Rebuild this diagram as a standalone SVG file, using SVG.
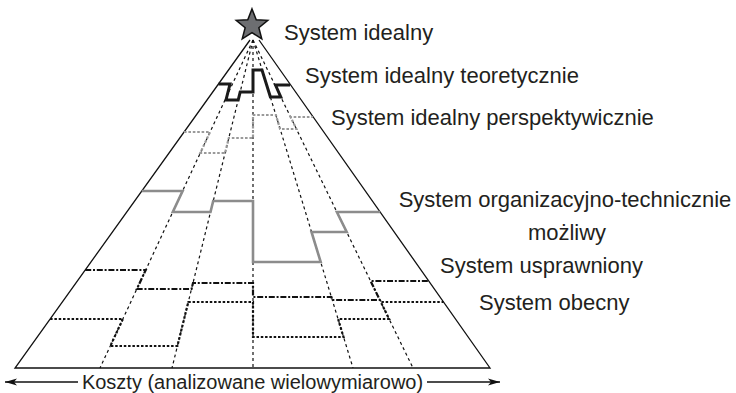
<svg xmlns="http://www.w3.org/2000/svg" width="736" height="393" viewBox="0 0 736 393">
<defs>
<style>
.lbl{font-family:"Liberation Sans",Arial,sans-serif;font-size:22px;fill:#231f20}
.axl{font-family:"Liberation Sans",Arial,sans-serif;font-size:20px;fill:#231f20}
.edge{fill:none;stroke:#111;stroke-width:1.3}
.fan{fill:none;stroke:#111;stroke-width:1.2;stroke-dasharray:3 3}
.lvl{fill:none;stroke-linejoin:miter}
</style>
<marker id="ah" viewBox="0 0 12 8" refX="12" refY="4" markerWidth="12" markerHeight="8" orient="auto" markerUnits="userSpaceOnUse">
<path d="M0,0.5 L12,4 L0,7.5 L3,4 Z" fill="#111"/>
</marker>
</defs>
<rect width="736" height="393" fill="#fff"/>

<g id="connectors">
<g id="fan-lines">
<path class="fan" d="M253,40 L100,368"/>
<path class="fan" d="M253,40 L172,368"/>
<path class="fan" d="M253,40 L253,368"/>
<path class="fan" d="M253,40 L353,368"/>
<path class="fan" d="M253,40 L413,368"/>
</g>
<path id="pyramid" class="edge" d="M250,40 L15,368 L490,368 L259,40"/>
</g>

<g id="level-obecny">
<path class="lvl" stroke="#111" stroke-width="2.2" stroke-dasharray="2.5 1.8" d="M50.1,319 H122.9 L110.3,346 H177.4 L188.3,302 H253 V337 H343.5 L338.1,319 H389.1 L380.8,302 H443.5"/>
</g>
<g id="level-usprawniony">
<path class="lvl" stroke="#111" stroke-width="2.2" stroke-dasharray="6 1.8 2 1.8" d="M85.2,270 H145.7 L136.9,289 H191.5 L193,283 H253 V297 H331.4 L332.3,300 H379.8 L370.6,281 H428.7"/>
</g>
<g id="level-organizacyjno">
<path class="lvl" stroke="#8c8c8c" stroke-width="2.6" d="M141.8,191 H182.6 L172.8,212 H210.5 L213.2,201 H253 V262 H320.7 L311.5,232 H346.7 L336.9,212 H380.1"/>
</g>
<g id="level-perspektywicznie">
<path class="lvl" stroke="#9a9a9a" stroke-width="2.2" stroke-dasharray="2.6 1.8" d="M184,132 H210 L200.3,153 H225.1 L228.8,138 H253 V115 H275.9 L280.1,129 H296.4 L290.6,117 H313"/>
</g>
<g id="level-teoretycznie">
<path class="lvl" stroke="#1a1a1a" stroke-width="3" d="M218.5,84 H230 L226,100 H238.2 L240.2,92 H253 V70 H262 L270.4,97 H280.8 L275.5,85 H290"/>
</g>

<g id="star">
<path d="M252,8.9 L256.23,19.68 L267.79,20.37 L258.85,27.72 L261.76,38.93 L252,32.7 L242.24,38.93 L245.15,27.72 L236.21,20.37 L247.77,19.68 Z" fill="#6d6e71" stroke="#111" stroke-width="1.5" stroke-linejoin="miter"/>
</g>

<g id="labels">
<text class="lbl" x="284" y="39.5">System idealny</text>
<text class="lbl" x="305" y="83">System idealny teoretycznie</text>
<text class="lbl" x="331" y="124.5">System idealny perspektywicznie</text>
<text class="lbl" x="565" y="207" text-anchor="middle">System organizacyjno-technicznie</text>
<text class="lbl" x="567" y="240" text-anchor="middle">możliwy</text>
<text class="lbl" x="440" y="273">System usprawniony</text>
<text class="lbl" x="479" y="310">System obecny</text>
</g>

<g id="axis">
<path class="edge" d="M78,382 H5" marker-end="url(#ah)"/>
<path class="edge" d="M427,382 H500" marker-end="url(#ah)"/>
<text class="axl" x="252.5" y="389" text-anchor="middle">Koszty (analizowane wielowymiarowo)</text>
</g>
</svg>
